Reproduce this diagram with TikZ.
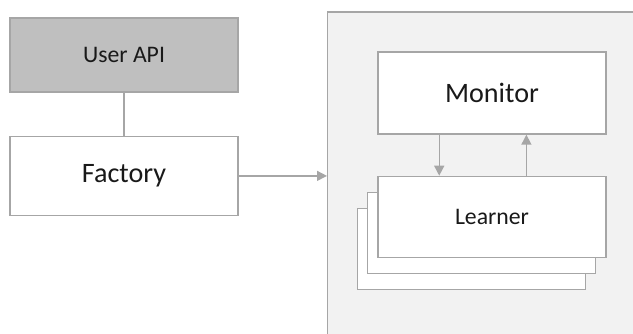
\documentclass[tikz,border=0pt]{standalone}
\usepackage{fontspec}
\setmainfont{Carlito}
\usepackage{tikz}
\usetikzlibrary{arrows.meta, positioning, calc}
\usepackage{xcolor}
\definecolor{edgegray}{HTML}{A6A6A6}
\definecolor{apigray}{HTML}{BFBFBF}
\definecolor{hostgray}{HTML}{F2F2F2}

\begin{document}
\begin{tikzpicture}[
  block/.style={rectangle, draw=edgegray, line width=0.8pt, fill=white,
    minimum width=4.56cm, align=center, text=black!90},
  bigtext/.style={font=\fontsize{16}{19}\selectfont},
  smalltext/.style={font=\fontsize{13.5}{16}\selectfont},
  arr/.style={-{Triangle[length=2mm, width=2mm]}, draw=edgegray, line width=0.8pt},
  node distance=0.86cm
]
\useasboundingbox (0,0) rectangle (12.66,-6.68);
% host process, runs past the page edge
\node[rectangle, draw=edgegray, line width=0.8pt, fill=hostgray, anchor=north west,
  minimum width=7cm, minimum height=7.5cm] (host) at (6.54,-0.23) {};

\node[block, smalltext, fill=apigray, minimum height=1.48cm] (api) at (2.48,-1.10) {User API};
\node[block, bigtext, minimum height=1.58cm, below=of api] (fac) {Factory};

\node[block, bigtext, minimum height=1.64cm] (mon) at (9.84,-1.86) {Monitor};
% stacked learners
\node[block, minimum height=1.62cm, below=1.46cm of mon, xshift=-0.41cm] (lrn3) {};
\node[block, minimum height=1.62cm, below=1.14cm of mon, xshift=-0.21cm] (lrn2) {};
\node[block, smalltext, minimum height=1.62cm, below=0.82cm of mon] (lrn) {Learner};

\draw[draw=edgegray, line width=0.8pt] (api) -- (fac);
\draw[arr] (fac.east) -- (fac.east -| host.west);

\coordinate (down) at ($(mon.south west)!0.27!(mon.south east)$);
\coordinate (up) at ($(lrn.north west)!0.65!(lrn.north east)$);
\draw[arr] (down) -- (down |- lrn.north);
\draw[arr] (up) -- (up |- mon.south);
\end{tikzpicture}
\end{document}
